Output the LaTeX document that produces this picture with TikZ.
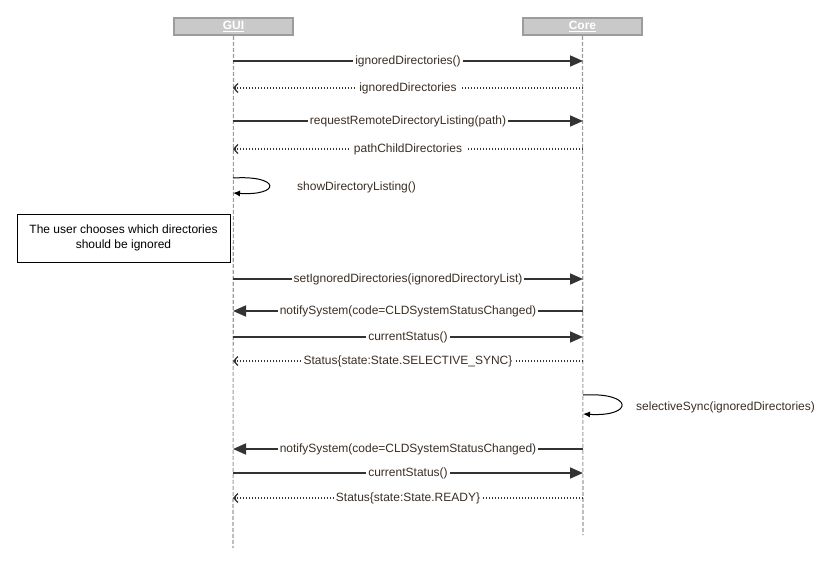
\documentclass[tikz,border=0pt]{standalone}
\usepackage{fontspec}
\setmainfont{Liberation Sans}
\usetikzlibrary{arrows.meta}
\definecolor{sqgray}{HTML}{9C9C9C}
\definecolor{sqfill}{HTML}{C9C9C9}
\definecolor{sqline}{HTML}{333333}
\definecolor{sqtext}{HTML}{3B2F24}

\begin{document}
\begin{tikzpicture}[x=1pt,y=-1pt,
    actor/.style={draw=sqgray,fill=sqfill,line width=1.8pt,minimum width=119pt,minimum height=17pt,inner sep=0pt,
      text=white,font=\fontsize{12}{14}\selectfont\bfseries},
    life/.style={draw=sqgray,line width=1.1pt,dash pattern=on 4pt off 2pt},
    call/.style={-{Triangle[length=13pt,width=11pt]},line width=1.7pt,draw=sqline},
    reply/.style={-{Straight Barb[length=4pt,width=9pt,line width=1.3pt]},line width=1.3pt,draw=sqline,
      dash pattern=on 1.2pt off 1.8pt},
    self/.style={-{Latex[length=7pt,width=6pt]},line width=1pt,draw=black},
    msg/.style={fill=white,inner xsep=2pt,inner ysep=1pt,text=sqtext,font=\fontsize{12}{14.5}\selectfont},
    note/.style={draw,line width=0.8pt,align=center,minimum width=213pt,minimum height=48pt,
      font=\fontsize{12}{14.5}\selectfont}]
  \useasboundingbox[fill=white] (0,0) rectangle (839,568);

  % participants
  \node[actor] (gui) at (233.5,26.5) {\underline{GUI}};
  \node[actor] (core) at (582.5,26.5) {\underline{Core}};
  \coordinate (guiend) at (233,548);
  \coordinate (coreend) at (583,535);
  \draw[life] (gui.south) -- (guiend);
  \draw[life] (core.south) -- (coreend);

  % anchor points on the lifelines
  \foreach \y in {61,88,121,149,178,193,279,311,337,361,395,414,449,473,498} {
    \coordinate (g\y) at (233,\y);
    \coordinate (c\y) at (583,\y);
  }

  % messages
  \draw[call] (g61) -- node[msg] {ignoredDirectories()} (c61);
  \draw[reply] (c88) -- node[msg,inner xsep=4pt] {ignoredDirectories\ } (g88);
  \draw[call] (g121) -- node[msg] {requestRemoteDirectoryListing(path)} (c121);
  \draw[reply] (c149) -- node[msg,inner xsep=4pt] {pathChildDirectories\ } (g149);

  \draw[self] (g178) .. controls (281,175) and (281,196) .. (g193);
  \node[msg,anchor=west] (showlbl) at (295,187) {showDirectoryListing()};

  \node[note] (choose) at (123.5,238) {The user chooses which directories\\should be ignored};

  \draw[call] (g279) -- node[msg] {setIgnoredDirectories(ignoredDirectoryList)} (c279);
  \draw[call] (c311) -- node[msg] {notifySystem(code=CLDSystemStatusChanged)} (g311);
  \draw[call] (g337) -- node[msg] {currentStatus()} (c337);
  \draw[reply] (c361) -- node[msg] {Status\{state:State.SELECTIVE\_SYNC\}} (g361);

  \draw[self] (c395) .. controls (634,392) and (634,417) .. (c414);
  \node[msg,anchor=west] (synclbl) at (634,407) {selectiveSync(ignoredDirectories)};

  \draw[call] (c449) -- node[msg] {notifySystem(code=CLDSystemStatusChanged)} (g449);
  \draw[call] (g473) -- node[msg] {currentStatus()} (c473);
  \draw[reply] (c498) -- node[msg] {Status\{state:State.READY\}} (g498);
\end{tikzpicture}
\end{document}
